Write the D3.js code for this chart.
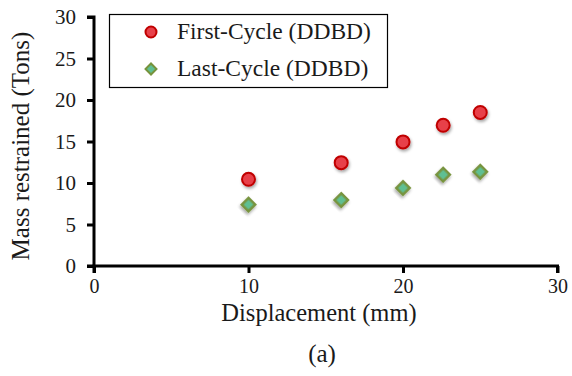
<!DOCTYPE html>
<html>
<head>
<meta charset="utf-8">
<script src="https://cdn.jsdelivr.net/npm/d3@7"></script>
<style>
  body { margin: 0; background: #fff; }
  svg text { font-family: "Times New Roman", "Liberation Serif", "DejaVu Serif", serif; fill: #1a1a1a; }
</style>
</head>
<body>
<svg width="572" height="376"></svg>
<script>
// --- Data ---
const displacement = [10, 16, 20, 22.6, 25];
const firstCycle = [10.45, 12.45, 14.95, 16.95, 18.5];
const lastCycle = [7.4, 7.95, 9.4, 11.0, 11.35];
const xTicks = [0, 10, 20, 30];
const yTicks = [0, 5, 10, 15, 20, 25, 30];
const seriesNames = ["First-Cycle (DDBD)", "Last-Cycle (DDBD)"];

const serif = "'Times New Roman', 'Liberation Serif', 'DejaVu Serif', serif";

// --- Setup ---
const svg = d3.select("svg");
const x = d3.scaleLinear().domain([0, 30]).range([94, 557.5]);
const y = d3.scaleLinear().domain([0, 30]).range([266, 17]);

const defs = svg.append("defs");
const shadow = defs.append("filter").attr("id", "shadow")
    .attr("x", "-50%").attr("y", "-50%").attr("width", "200%").attr("height", "200%");
shadow.append("feDropShadow")
    .attr("dx", 1).attr("dy", 2).attr("stdDeviation", 1.5)
    .attr("flood-color", "#000").attr("flood-opacity", 0.35);

// --- Axes ---
const yAxis = svg.append("g")
    .attr("transform", "translate(94,0)")
    .call(d3.axisLeft(y).tickValues(yTicks).tickSize(7).tickPadding(11));
const xAxis = svg.append("g")
    .attr("transform", "translate(0,266)")
    .call(d3.axisBottom(x).tickValues(xTicks).tickSize(7).tickPadding(6));

[yAxis, xAxis].forEach(a => {
    a.attr("font-family", serif);
    a.select(".domain").attr("stroke", "#000").attr("stroke-width", 3);
    a.selectAll(".tick line").attr("stroke", "#000").attr("stroke-width", 3);
    a.selectAll(".tick text").attr("font-size", "21px")
        .style("font-family", serif).attr("fill", "#1a1a1a");
});
xAxis.selectAll(".tick text").attr("font-size", "20px");
xAxis.select(".domain").attr("d", "M94,7V0H557.5V7");
yAxis.select(".domain").attr("d", "M-7,17H0V266H-7");

// --- Axis titles ---
svg.append("text")
    .attr("transform", "translate(29,146) rotate(-90)")
    .attr("text-anchor", "middle")
    .attr("font-size", "25px")
    .style("font-family", serif)
    .text("Mass restrained (Tons)");

svg.append("text")
    .attr("x", 319).attr("y", 321)
    .attr("text-anchor", "middle")
    .attr("font-size", "24.5px")
    .style("font-family", serif)
    .text("Displacement (mm)");

svg.append("text")
    .attr("x", 322).attr("y", 362)
    .attr("text-anchor", "middle")
    .attr("font-size", "25px")
    .style("font-family", serif)
    .text("(a)");

// --- Points ---
const diamond = d3.symbol().type(d3.symbolSquare).size(88);

svg.append("g").selectAll("path")
    .data(displacement)
    .enter().append("path")
    .attr("d", diamond)
    .attr("transform", (d, i) => `translate(${x(d)},${y(lastCycle[i])}) rotate(45)`)
    .attr("fill", "#5fbf92")
    .attr("stroke", "#77933c")
    .attr("stroke-width", 2.5)
    .attr("filter", "url(#shadow)");

svg.append("g").selectAll("circle")
    .data(displacement)
    .enter().append("circle")
    .attr("cx", d => x(d))
    .attr("cy", (d, i) => y(firstCycle[i]))
    .attr("r", 6.5)
    .attr("fill", "#e8414a")
    .attr("stroke", "#c00000")
    .attr("stroke-width", 2)
    .attr("filter", "url(#shadow)");

// --- Legend ---
svg.append("rect")
    .attr("x", 109.5).attr("y", 14.5)
    .attr("width", 278).attr("height", 73)
    .attr("fill", "#fff")
    .attr("stroke", "#000")
    .attr("stroke-width", 1.2);

const legend = svg.append("g");
legend.append("circle")
    .attr("cx", 151).attr("cy", 32).attr("r", 5.5)
    .attr("fill", "#e8414a").attr("stroke", "#c00000").attr("stroke-width", 2);
legend.append("path")
    .attr("d", d3.symbol().type(d3.symbolSquare).size(60))
    .attr("transform", "translate(151,69) rotate(45)")
    .attr("fill", "#5fbf92").attr("stroke", "#77933c").attr("stroke-width", 2);

legend.selectAll("text")
    .data(seriesNames)
    .enter().append("text")
    .attr("x", 177)
    .attr("y", (d, i) => 39 + i * 37)
    .attr("font-size", "23.5px")
    .style("font-family", serif)
    .text(d => d);
</script>
</body>
</html>
